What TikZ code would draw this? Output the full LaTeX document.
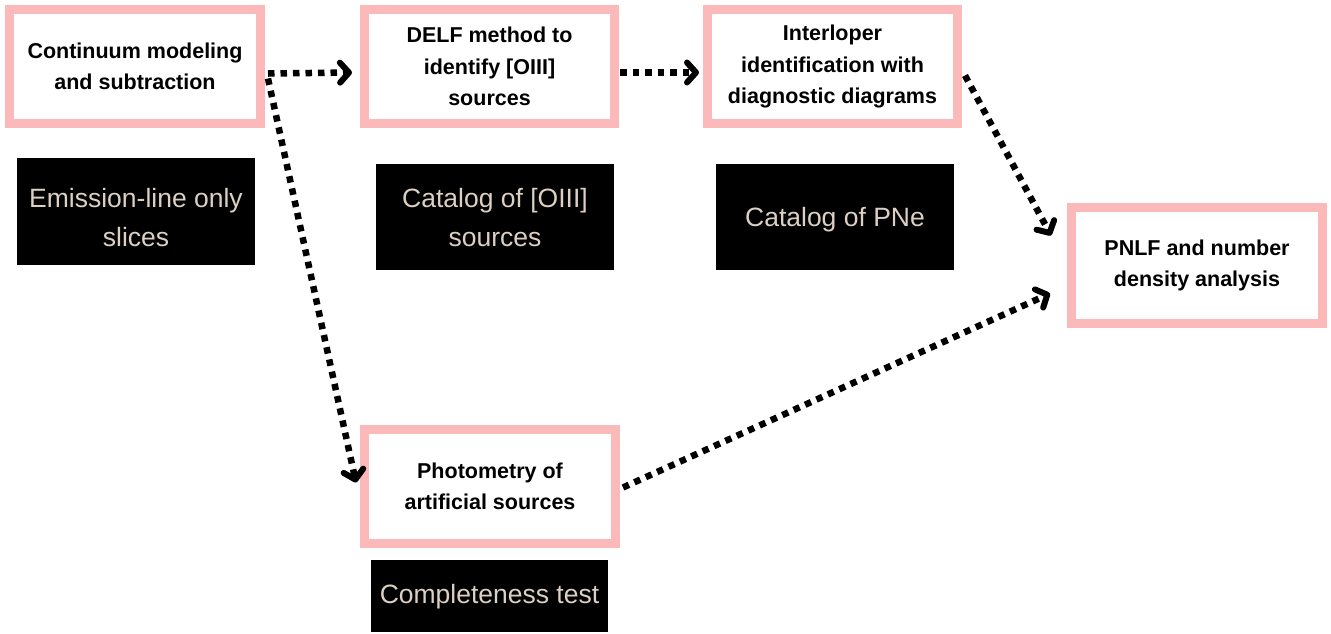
\documentclass[tikz,border=0pt]{standalone}
\usepackage{fontspec}
\setmainfont{Liberation Sans}
\usetikzlibrary{arrows.meta}
\definecolor{pinkb}{HTML}{FBB9B9}
\definecolor{beige}{HTML}{DCCFC3}
\tikzset{
  pinkbox/.style={draw=pinkb, line width=9pt, fill=white, minimum width=251pt, minimum height=114pt,
    align=center, inner sep=0pt, font=\fontsize{21.5}{31.5}\selectfont\bfseries, text=black},
  blackbox/.style={fill=black, draw=none, minimum width=238pt, minimum height=106pt, inner sep=0pt},
  btext/.style={text=beige, align=center, font=\fontsize{26.5}{39}\selectfont},
  arr/.style={line width=6.5pt, dash pattern=on 6.5pt off 6pt, black,
    -{Straight Barb[length=9pt,width=20pt,round,line width=6pt]}}
}
\begin{document}
\begin{tikzpicture}[x=1pt,y=-1pt]
\useasboundingbox[fill=white] (0,0) rectangle (1331,633);
\node[pinkbox] (c1) at (135,66.5) {Continuum modeling\\and subtraction};
\node[pinkbox, minimum width=250pt] (delf) at (489.5,66.5) {DELF method to\\identify [OIII]\\sources};
\node[pinkbox, minimum width=250pt] (inter) at (832.5,66.5) {Interloper\\identification with\\diagnostic diagrams};
\node[pinkbox, minimum height=116pt] (pnlf) at (1197,265.5) {PNLF and number\\density analysis};
\node[pinkbox] (photo) at (490,486.5) {Photometry of\\artificial sources};
\node[blackbox, minimum height=107pt, label={[btext, yshift=-6pt]center:Emission-line only\\slices}] (em) at (136,211.5) {};
\node[blackbox, label={[btext, yshift=-0.5pt]center:Catalog of [OIII]\\sources}] (cat1) at (495,217) {};
\node[blackbox, label={[btext, yshift=-3pt]center:Catalog of PNe}] (cat2) at (835,217) {};
\node[blackbox, minimum width=237pt, minimum height=72pt, label={[btext, yshift=-0.5pt]center:Completeness test}] (comp) at (489.5,596) {};
\draw[arr] ([xshift=3pt,yshift=-7pt]c1.east) -- ([xshift=-8pt,yshift=-6pt]delf.west);
\draw[arr] ([xshift=1pt,yshift=-6pt]delf.east) -- ([xshift=-4pt,yshift=-6pt]inter.west);
\draw[arr] ([xshift=3pt,yshift=-9pt]inter.east) -- ([xshift=-16pt,yshift=30pt]pnlf.west);
\draw[arr] ([xshift=3pt,yshift=-12pt]c1.east) -- ([xshift=-4pt,yshift=4pt]photo.west);
\draw[arr] ([xshift=3pt,yshift=-1pt]photo.east) -- ([xshift=-17pt,yshift=-28pt]pnlf.west);
\end{tikzpicture}
\end{document}
